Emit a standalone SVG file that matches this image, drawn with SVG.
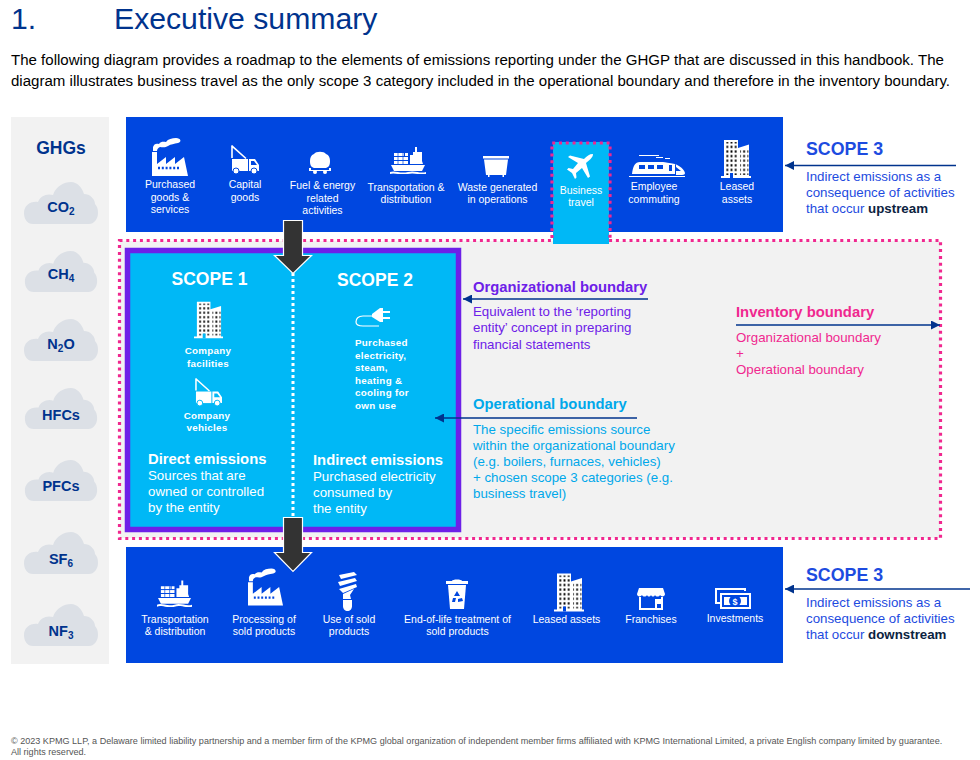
<svg xmlns="http://www.w3.org/2000/svg" width="980" height="760" viewBox="0 0 980 760">
<style>
text{font-family:"Liberation Sans",Arial,sans-serif}
.t{font-size:15.05px;fill:#000}
.h{font-size:30.2px;fill:#00338D}
.l{font-size:10.5px;fill:#fff;text-anchor:middle}
.c{font-size:9.8px;fill:#fff;font-weight:bold;letter-spacing:.3px}
.m{text-anchor:middle}
.g{font-size:14.5px;fill:#00338D;font-weight:bold;text-anchor:middle}
.s{font-size:10px}
.sc{font-size:17.5px;font-weight:bold}
.w{fill:#fff}
.b{font-size:13.3px}
.bh{font-size:14.8px;font-weight:bold}
.blue{fill:#1D4BE0}
.ib{color:#0047E0;fill:#fff}
.ic{color:#00B8F6;fill:#fff}
.pur{fill:#6D20E8}
.aq{fill:#00A8EA}
.pk{fill:#F0288F}
.cl{fill:#DCE0E6}
.line{fill:none;stroke:#00338D;stroke-width:1.5;marker-end:url(#ah)}
.big{fill:#333;stroke:#fff;stroke-width:1.2}
.dots{fill:none;stroke:#F0288F;stroke-width:3.2;stroke-dasharray:3 3.8}
</style>
<defs>
<marker id="ah" markerUnits="userSpaceOnUse" markerWidth="10" markerHeight="9" refX="9" refY="4.5" orient="auto"><path d="M0 0L9 4.5L0 9Z" fill="#00338D"/></marker>
<symbol id="cloud" viewBox="0 0 74 42"><path d="M9 42C3 42 0 37 0 31C0 24 6 19 14 20C16 14 23 11 29 13C32 4 40 0 47 0C53 0 58 5 60 12C66 12 71 17 71 22C73 24 74 27 74 31C74 37 70 42 65 42Z"/></symbol>
<pattern id="win" width="4.2" height="4.6" patternUnits="userSpaceOnUse"><rect x="1.2" y="1.200" width="1.800" height="2.200" fill="currentColor"/></pattern>
<symbol id="building" viewBox="0 0 30 38"><path d="M3 36V0H17V8L28 4.500V36H30V38H0V36Z"/><rect x="4" y="2" width="12.600" height="33" fill="url(#win)"/><rect x="19" y="10" width="8.400" height="25" fill="url(#win)"/><rect x="9" y="33" width="3" height="5" fill="currentColor"/></symbol>
<symbol id="factory" viewBox="0 0 36 38"><path d="M0 38V14H5V26L14 19V26L23 19V26L32 19L36 38Z"/><path d="M1 13V9C2 6 4 5 7 6C9 3 12 4 14 4C16 1 20 0 24 0C29 0 30 4 26 5C22 6 19 6 16 8C13 10 10 9 8 9C6 10 5 11 5 13Z"/><path d="M6 30h22" stroke="currentColor" stroke-width="2.400" stroke-dasharray="2 1.800" fill="none"/></symbol>
<symbol id="truck" viewBox="0 0 28 29"><path d="M1 1V13M.5 .5L15 13.500" fill="none" stroke="#fff" stroke-width="1.600"/><path d="M1 14H17V26H1Z"/><path d="M18 14H24L28 20V26H18ZM20 16V20H26L23 16Z" fill-rule="evenodd"/><circle cx="5" cy="26" r="3" stroke="currentColor"/><circle cx="23" cy="26" r="3" stroke="currentColor"/></symbol>
<symbol id="tank" viewBox="0 0 22 23"><path d="M5 3C7 0 15 0 17 3C20 4 21 7 21 10C21 14 20 16 17 17H5C2 16 1 14 1 10C1 7 2 4 5 3Z"/><path d="M0 17H2V19H20V17H22V20H0Z"/><circle cx="6" cy="21" r="2"/><circle cx="16" cy="21" r="2"/></symbol>
<symbol id="ship" viewBox="0 0 36 27"><path d="M1 18H35L32 24H4Z"/><path d="M4 6h10v3H4zM4 10h14v3H4zM4 14h14v3H4zM15 6h3v3h-3zM20 14V8H23V5H25V0H27V5H32V14L33 17H20Z"/><path d="M0 25C5 23 10 27 18 25C25 23 30 27 36 25V27C30 29 25 25 18 27C10 29 5 25 0 27Z"/><path d="M8 6v11M13 6v11M4 9.500h14M4 13.500h14" stroke="currentColor" stroke-width=".7"/></symbol>
<symbol id="bin" viewBox="0 0 26 21"><path d="M0 0H26V2.500H0Z"/><path d="M1 3.500H25L23 19H21V21H19.500V19H6.500V21H5V19H3Z"/></symbol>
<symbol id="plane" viewBox="0 0 26 25"><path d="M26 0C22 0 20 2 17 5L3 1.500L1 3L11 9L6 15L1.500 14L0 15.500L5 19L8 25L9.500 23.500L9 19L15 14L21 24L23 22.500L19 9C22 6 26 4 26 0Z"/></symbol>
<symbol id="train" viewBox="0 0 56 22"><path d="M0 21H56V22H0Z"/><path d="M3 19H46V9C40 8 36 7 34 7H11C6 7 4 11 3 19Z"/><path d="M46 9C51 11 55 14 56 18C56 19 55 20 53 20H47V9Z"/><path d="M10 10h6v4h-6zM19 10h6v4h-6zM28 10h6v4h-6zM40 10h3v6h-3zM47 12l5 4h-5z" fill="currentColor"/><path d="M10 0h20v1H10zM27 2h7v1h-7zM36 3h5v1h-5z"/></symbol>
<symbol id="plug" viewBox="0 0 35 19"><path d="M17 6L25 0H28V14H25L17 9Z"/><path d="M28 3H35V5H28ZM28 9H35V11H28Z"/><path d="M18 8H8C3 8 1 11 1 14C1 17 4 18 8 18H24" fill="none" stroke="#fff" stroke-width="1.200"/></symbol>
<symbol id="bulb" viewBox="0 0 19 39"><path d="M1 3L16 0L19 3L3 7ZM0 10L17 6L19 9L2 14ZM1 17L18 12L19 15L5 21ZM5 22L16 17L12 23L13 27H5Z"/><path d="M5 28H14V34C14 37 12 39 9.500 39C7 39 5 37 5 34Z"/></symbol>
<symbol id="rbin" viewBox="0 0 22 30"><path d="M6 2C6 0 16 0 16 2H22V5H0V2Z"/><path d="M2 6H20L18 30H4Z"/><path d="M11 12L14 17H8ZM7 19H10L9 23H6ZM16 19L17 22L12 23V20Z" fill="currentColor"/></symbol>
<symbol id="shop" viewBox="0 0 28 22"><path d="M2 0H26L28 6C28 9 24 9 23 7C22 9 19 9 18 7C17 9 15 9 14 7C13 9 11 9 10 7C9 9 6 9 5 7C4 9 0 9 0 6Z"/><path d="M2 9H4V20H18V11H20V20H24V9H26V22H2Z"/><rect x="19" y="11" width="5" height="5"/></symbol>
<symbol id="money" viewBox="0 0 36 21"><path d="M0 0H31V3H29V2H2V14H5V16H0Z"/><path d="M5 5H36V21H5ZM7 7V19H34V7Z" fill-rule="evenodd"/><rect x="9" y="9" width="23" height="8"/><circle cx="20" cy="13" r="6" fill="currentColor"/><text x="20" y="16.500" font-size="9" font-weight="bold" text-anchor="middle" fill="#fff">$</text></symbol>
</defs>

<rect width="980" height="760" fill="#fff"/>
<g id="title"><text class="h" x="11" y="29">1.</text><text class="h" x="114" y="29">Executive summary</text></g>
<g id="intro"><text class="t" x="11" y="65">The following diagram provides a roadmap to the elements of emissions reporting under the GHGP that are discussed in this handbook. The</text><text class="t" x="11" y="86">diagram illustrates business travel as the only scope 3 category included in the operational boundary and therefore in the inventory boundary.</text></g>

<g id="ghgs">
<rect x="11" y="117" width="98" height="547" fill="#F2F2F2"/>
<text class="g" x="61" y="154" style="font-size:17.5px">GHGs</text>
<use href="#cloud" class="cl" x="24" y="182" width="74" height="42"/><text class="g" x="61" y="212">CO<tspan class="s" dy="3">2</tspan></text>
<use href="#cloud" class="cl" x="24" y="251" width="74" height="41"/><text class="g" x="61" y="279">CH<tspan class="s" dy="3">4</tspan></text>
<use href="#cloud" class="cl" x="24" y="319" width="74" height="42"/><text class="g" x="61" y="349">N<tspan class="s" dy="3">2</tspan><tspan dy="-3">O</tspan></text>
<use href="#cloud" class="cl" x="24" y="388" width="74" height="41"/><text class="g" x="61" y="420">HFCs</text>
<use href="#cloud" class="cl" x="24" y="460" width="74" height="41"/><text class="g" x="61" y="491">PFCs</text>
<use href="#cloud" class="cl" x="24" y="532" width="74" height="42"/><text class="g" x="61" y="564">SF<tspan class="s" dy="3">6</tspan></text>
<use href="#cloud" class="cl" x="24" y="604" width="74" height="42"/><text class="g" x="61" y="636">NF<tspan class="s" dy="3">3</tspan></text>
</g>

<g id="inventory-boundary">
<rect x="119.500" y="240.500" width="821" height="298" fill="#F2F2F2" stroke="#fff"/>
<rect x="119.500" y="240.500" width="821" height="298" class="dots"/>
</g>

<g id="scope3-upstream">
<rect x="126" y="117" width="657" height="115" fill="#0047E0"/>
<use href="#factory" class="ib" x="152" y="138" width="36" height="38"/>
<text class="l" x="170"><tspan x="170" y="188">Purchased</tspan><tspan x="170" y="201">goods &amp;</tspan><tspan x="170" y="213">services</tspan></text>
<use href="#truck" class="ib" x="231" y="145" width="28" height="29"/>
<text class="l"><tspan x="245" y="188">Capital</tspan><tspan x="245" y="201">goods</tspan></text>
<use href="#tank" class="ib" x="309" y="151" width="22" height="23"/>
<text class="l"><tspan x="322.500" y="189">Fuel &amp; energy</tspan><tspan x="322.500" y="202">related</tspan><tspan x="322.500" y="214">activities</tspan></text>
<use href="#ship" class="ib" x="390" y="147" width="36" height="27"/>
<text class="l"><tspan x="406" y="191">Transportation &amp;</tspan><tspan x="406" y="203">distribution</tspan></text>
<use href="#bin" class="ib" x="483" y="156" width="26" height="21"/>
<text class="l"><tspan x="497.500" y="191">Waste generated</tspan><tspan x="497.500" y="203">in operations</tspan></text>
<use href="#train" class="ib" x="629" y="155" width="56" height="22"/>
<text class="l"><tspan x="654" y="190">Employee</tspan><tspan x="654" y="203">commuting</tspan></text>
<use href="#building" class="ib" x="721" y="140" width="30" height="38"/>
<text class="l"><tspan x="737" y="190">Leased</tspan><tspan x="737" y="203">assets</tspan></text>
</g>

<g id="business-travel">
<rect x="553" y="142" width="56" height="102" fill="#00B8F6"/>
<path class="dots" d="M552 238V143H610V238"/>
<use href="#plane" class="ic" x="567" y="154" width="26" height="25"/>
<text class="l"><tspan x="581" y="194">Business</tspan><tspan x="581" y="206">travel</tspan></text>
</g>

<g id="scope3-downstream">
<rect x="126" y="547" width="657" height="116" fill="#0047E0"/>
<use href="#ship" class="ib" x="157" y="580" width="35" height="27"/>
<text class="l"><tspan x="175" y="623">Transportation</tspan><tspan x="175" y="635">&amp; distribution</tspan></text>
<use href="#factory" class="ib" x="248" y="567" width="35" height="40"/>
<text class="l"><tspan x="264" y="623">Processing of</tspan><tspan x="264" y="635">sold products</tspan></text>
<use href="#bulb" class="ib" x="338" y="572" width="19" height="39"/>
<text class="l"><tspan x="349" y="623">Use of sold</tspan><tspan x="349" y="635">products</tspan></text>
<use href="#rbin" class="ib" x="446" y="579" width="22" height="30"/>
<text class="l"><tspan x="457.500" y="623">End-of-life treatment of</tspan><tspan x="457.500" y="635">sold products</tspan></text>
<use href="#building" class="ib" x="554" y="573" width="30" height="39"/>
<text class="l" x="566.500" y="623">Leased assets</text>
<use href="#shop" class="ib" x="637" y="588" width="28" height="22"/>
<text class="l" x="651" y="623">Franchises</text>
<use href="#money" class="ib" x="715" y="588" width="36" height="21"/>
<text class="l" x="735" y="622">Investments</text>
</g>

<g id="organizational-boundary">
<rect x="127.500" y="250.500" width="331" height="279" fill="#00B8F6" stroke="#6D20E8" stroke-width="5.500"/>
</g>

<g id="scope1">
<text class="sc w m" x="209.500" y="285">SCOPE 1</text>
<use href="#building" class="ic" x="194" y="301" width="29" height="38"/>
<text class="c m"><tspan x="208" y="354">Company</tspan><tspan x="208" y="367">facilities</tspan></text>
<use href="#truck" class="ic" x="195" y="378" width="27" height="28"/>
<text class="c m"><tspan x="207" y="419">Company</tspan><tspan x="207" y="431">vehicles</tspan></text>
<text class="bh w" x="148" y="464">Direct emissions</text>
<text class="b w"><tspan x="148" y="480">Sources that are</tspan><tspan x="148" y="496">owned or controlled</tspan><tspan x="148" y="512">by the entity</tspan></text>
</g>

<g id="scope2">
<text class="sc w m" x="375" y="286">SCOPE 2</text>
<use href="#plug" class="ic" x="355" y="308" width="35" height="19"/>
<text class="c"><tspan x="355" y="346">Purchased</tspan><tspan x="355" y="359">electricity,</tspan><tspan x="355" y="371">steam,</tspan><tspan x="355" y="384">heating &amp;</tspan><tspan x="355" y="396">cooling for</tspan><tspan x="355" y="409">own use</tspan></text>
<text class="bh w" x="313" y="465">Indirect emissions</text>
<text class="b w"><tspan x="313" y="481">Purchased electricity</tspan><tspan x="313" y="497">consumed by</tspan><tspan x="313" y="513">the entity</tspan></text>
</g>

<g id="upstream-label">
<text class="sc blue" x="806" y="155" style="font-size:17.8px">SCOPE 3</text>
<text class="b blue"><tspan x="806" y="181">Indirect emissions as a</tspan><tspan x="806" y="197">consequence of activities</tspan><tspan x="806" y="213">that occur <tspan font-weight="bold" fill="#0C233F">upstream</tspan></tspan></text>
</g>
<g id="downstream-label">
<text class="sc blue" x="806" y="581" style="font-size:17.8px">SCOPE 3</text>
<text class="b blue"><tspan x="806" y="607">Indirect emissions as a</tspan><tspan x="806" y="623">consequence of activities</tspan><tspan x="806" y="639">that occur <tspan font-weight="bold" fill="#0C233F">downstream</tspan></tspan></text>
</g>
<g id="org-label">
<text class="bh pur" x="473" y="292">Organizational boundary</text>
<text class="b pur"><tspan x="473" y="316">Equivalent to the ‘reporting</tspan><tspan x="473" y="332">entity’ concept in preparing</tspan><tspan x="473" y="349">financial statements</tspan></text>
</g>
<g id="op-label">
<text class="bh aq" x="473" y="409">Operational boundary</text>
<text class="b aq"><tspan x="473" y="434">The specific emissions source</tspan><tspan x="473" y="450">within the organizational boundary</tspan><tspan x="473" y="466">(e.g. boilers, furnaces, vehicles)</tspan><tspan x="473" y="482">+ chosen scope 3 categories (e.g.</tspan><tspan x="473" y="498">business travel)</tspan></text>
</g>
<g id="inv-label">
<text class="bh pk" x="736" y="317">Inventory boundary</text>
<text class="b pk"><tspan x="736" y="342">Organizational boundary</tspan><tspan x="736" y="358">+</tspan><tspan x="736" y="374">Operational boundary</tspan></text>
</g>

<g id="connectors">
<path d="M293 273V517" fill="none" stroke="#fff" stroke-width="3" stroke-dasharray="3 3"/>
<path class="big" d="M283.500 220.500H302.500V255.500H311.500L293 273.500L274.500 255.500H283.500Z"/>
<path class="big" d="M283.500 517.500H302.500V552.500H311.500L293 571.500L274.500 552.500H283.500Z"/>
<path class="line" d="M956 165.500H785"/>
<path class="line" d="M970 589H785"/>
<path class="line" d="M648 299H463"/>
<path class="line" d="M637 418H435"/>
<path class="line" d="M736 325H940"/>
</g>

<g id="footer"><text x="11" y="744" font-size="9.070" fill="#555">© 2023 KPMG LLP, a Delaware limited liability partnership and a member firm of the KPMG global organization of independent member firms affiliated with KPMG International Limited, a private English company limited by guarantee.</text><text x="11" y="755" font-size="9.070" fill="#555">All rights reserved.</text></g>
</svg>
